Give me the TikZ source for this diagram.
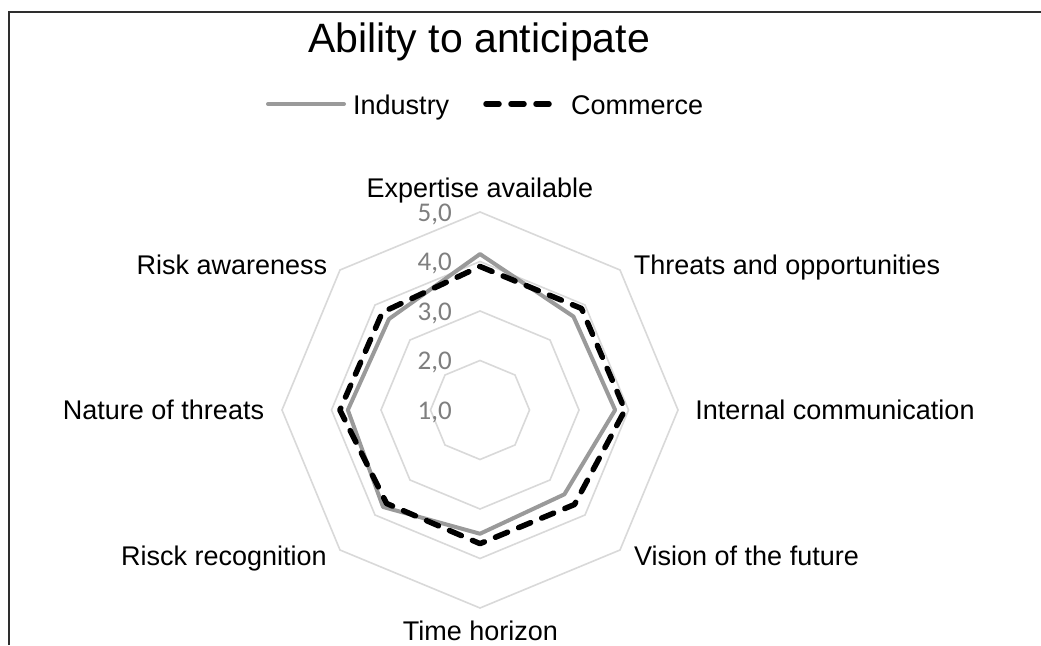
\documentclass[tikz,border=0pt]{standalone}
\usepackage{fontspec}
\setmainfont{Liberation Sans}
\newfontfamily\axisfont{Carlito}
\definecolor{ringgray}{HTML}{D9D9D9}
\definecolor{indgray}{HTML}{9A9A9A}
\definecolor{tickgray}{HTML}{7F7F7F}
\definecolor{framegray}{HTML}{2E2E2E}
\begin{document}
\begin{tikzpicture}[x=1pt,y=1pt,
  frameline/.style={draw=framegray, line width=2.2pt},
  ring/.style={draw=ringgray, line width=1.6pt, line join=miter},
  industry/.style={draw=indgray, line width=4pt, line join=round},
  commerce/.style={draw=black, line width=5.5pt, line cap=round, line join=round, dash pattern=on 13pt off 12pt},
  cat/.style={font=\fontsize{27}{32}\selectfont, inner sep=0pt, text height=19.3pt, text depth=0pt},
  tick/.style={font=\axisfont\fontsize{27}{32}\selectfont, text=tickgray, anchor=east, inner sep=0pt, text height=17pt, text depth=0pt},
  ttl/.style={font=\fontsize{41}{48}\selectfont, inner sep=0pt, text height=29.4pt, text depth=0pt}]
\useasboundingbox (0,0) rectangle (1041,645);
\fill[white] (0,0) rectangle (1041,645);
% frame
\draw[frameline] (9,0) -- (9,633) -- (1041,633);
% title
\node[ttl] (title) at (479,607) {Ability to anticipate};
% legend
\coordinate (li1) at (268,541);
\coordinate (li2) at (344,541);
\draw[draw=indgray, line width=4pt, line cap=round] (li1) -- (li2);
\node[cat, anchor=west] (lind) at (353,540) {Industry};
\coordinate (lc1) at (486,541);
\coordinate (lc2) at (556,541);
\draw[draw=black, line width=5.5pt, line cap=round, dash pattern=on 13pt off 12pt] (lc1) -- (lc2);
\node[cat, anchor=west] (lcom) at (571,540) {Commerce};
\begin{scope}[shift={(480,235)}]
  \coordinate (c) at (0,0);
  % rings
  \foreach \v in {2,3,4,5} {
    \pgfmathsetmacro{\rr}{(\v-1)*49.5}
    \draw[ring] (90:\rr) -- (45:\rr) -- (0:\rr) -- (-45:\rr) -- (-90:\rr) -- (-135:\rr) -- (180:\rr) -- (135:\rr) -- cycle;
  }
  % industry
  \draw[industry] (90:{3.15*49.5}) -- (45:{2.67*49.5}) -- (0:{2.73*49.5}) -- (-45:{2.41*49.5}) -- (-90:{2.5*49.5}) -- (-135:{2.77*49.5}) -- (180:{2.67*49.5}) -- (135:{2.6*49.5}) -- cycle;
  % commerce
  \draw[commerce] (90:{2.9*49.5}) -- (45:{2.9*49.5}) -- (0:{2.93*49.5}) -- (-45:{2.7*49.5}) -- (-90:{2.7*49.5}) -- (-135:{2.67*49.5}) -- (180:{2.83*49.5}) -- (135:{2.79*49.5}) -- cycle;
  % tick labels
  \node[tick] (t1) at (-28,-1) {1,0};
  \node[tick] (t2) at (-28,{1*49.5-1}) {2,0};
  \node[tick] (t3) at (-28,{2*49.5-1}) {3,0};
  \node[tick] (t4) at (-28,{3*49.5-1}) {4,0};
  \node[tick] (t5) at (-28,{4*49.5-1}) {5,0};
\end{scope}
% category labels
\node[cat] (expert) at (480,457) {Expertise available};
\node[cat] (threats) at (787,380) {Threats and opportunities};
\node[cat] (internal) at (835,235) {Internal communication};
\node[cat] (vision) at (746.5,89) {Vision of the future};
\node[cat] (timeh) at (480.5,14) {Time horizon};
\node[cat] (risck) at (224,89) {Risck recognition};
\node[cat] (nature) at (163.5,235) {Nature of threats};
\node[cat] (riskaw) at (232,380) {Risk awareness};
\end{tikzpicture}
\end{document}
